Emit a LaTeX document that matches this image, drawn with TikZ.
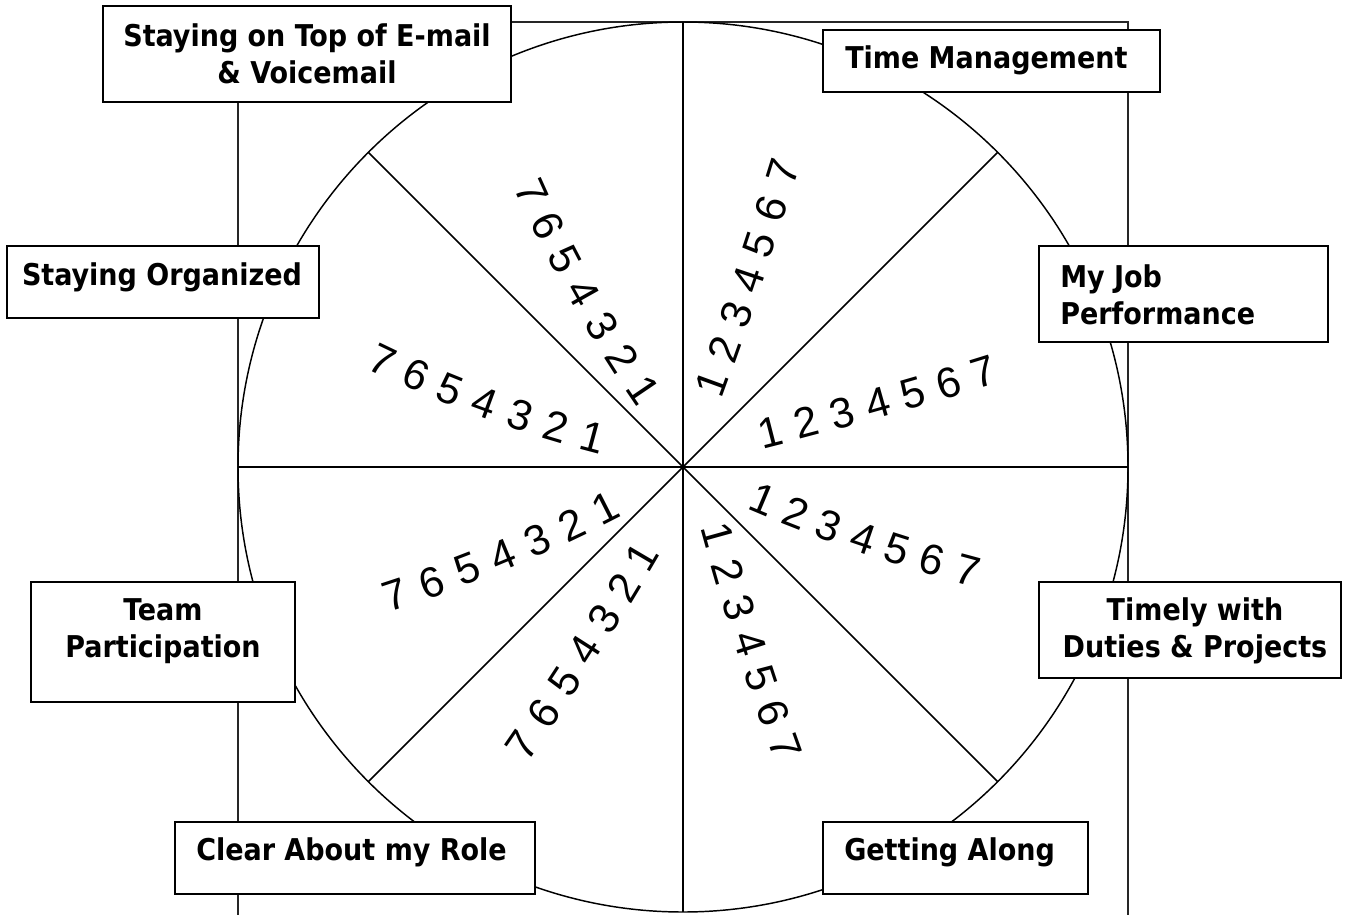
\documentclass[tikz,border=0pt]{standalone}
\usepackage{fontspec}
\usepackage{tikz}
\usetikzlibrary{calc}
\newfontfamily\boxfont{DejaVu Sans Condensed}
\newfontfamily\numfont{Liberation Sans}
\tikzset{
  rim/.style={draw=black, line width=1.1pt},
  frame/.style={draw=black!85, line width=0.9pt},
  box/.style={draw=black, fill=white, line width=1.6pt},
  lab/.style={font=\boxfont\bfseries\fontsize{22.5}{27.75}\selectfont, inner sep=0pt, align=center},
  num/.style={font=\numfont\fontsize{32}{32}\selectfont, inner sep=0pt, sloped, allow upside down},
}
\newcommand\numarc[5]{%
  \path (#2) .. controls ($(#2)!2/3!(#3)$) and ($(#4)!2/3!(#3)$) .. (#4)
    \foreach \d [count=\i from 0, evaluate=\i as \p using \i/6] in {#5} {
      node[num, pos=\p] (#1\d) {\d}
    };
}

\begin{document}
\begin{tikzpicture}[x=0.75pt, y=-0.75pt]
  \useasboundingbox (0,0) rectangle (1349,914);
  \clip (0,0) rectangle (1349,914);
  \coordinate (O) at (683,467);

  \draw[frame] (238,22) rectangle (1128,940);
  \draw[rim] (O) circle[radius=445];
  \foreach \a in {0,45,90,135}
    \draw[rim] ($(O)+(\a:445)$) -- ($(O)+(\a+180:445)$);

  \numarc{a}{532,192}{578.5,295}{643,390}{7,6,5,4,3,2,1}
  \numarc{b}{383,360}{482,407.5}{593,437}{7,6,5,4,3,2,1}
  \numarc{c}{712,383}{748.5,282.5}{783,172}{1,2,3,4,5,6,7}
  \numarc{d}{770,432}{879.5,404}{983,372}{1,2,3,4,5,6,7}
  \numarc{e}{763,500}{860.5,541}{968,570}{1,2,3,4,5,6,7}
  \numarc{f}{718,535}{748.5,645}{785,747}{1,2,3,4,5,6,7}
  \numarc{g}{522,745}{588,649}{642,557}{7,6,5,4,3,2,1}
  \numarc{h}{395,595}{506,558.5}{605,508}{7,6,5,4,3,2,1}

  \draw[box] (103,6) rectangle (511,102);
  \node[lab] (email) at (307,54) {Staying on Top of E-mail\\\& Voicemail};
  \draw[box] (823,30) rectangle (1160,92);
  \node[lab, anchor=west] (time) at (845,60) {Time Management};
  \draw[box] (1039,246) rectangle (1328,342);
  \node[lab, anchor=west, align=left] (job) at (1060,295) {My Job\\Performance};
  \draw[box] (7,246) rectangle (319,318);
  \node[lab] (organized) at (162,277) {Staying Organized};
  \draw[box] (31,582) rectangle (295,702);
  \node[lab] (team) at (163,631) {Team\\Participation};
  \draw[box] (1039,582) rectangle (1341,678);
  \node[lab] (timely) at (1195,631) {Timely with\\Duties \& Projects};
  \draw[box] (175,822) rectangle (535,894);
  \node[lab, anchor=west] (role) at (196,852) {Clear About my Role};
  \draw[box] (823,822) rectangle (1088,894);
  \node[lab, anchor=west] (along) at (844,852) {Getting Along};
\end{tikzpicture}
\end{document}
